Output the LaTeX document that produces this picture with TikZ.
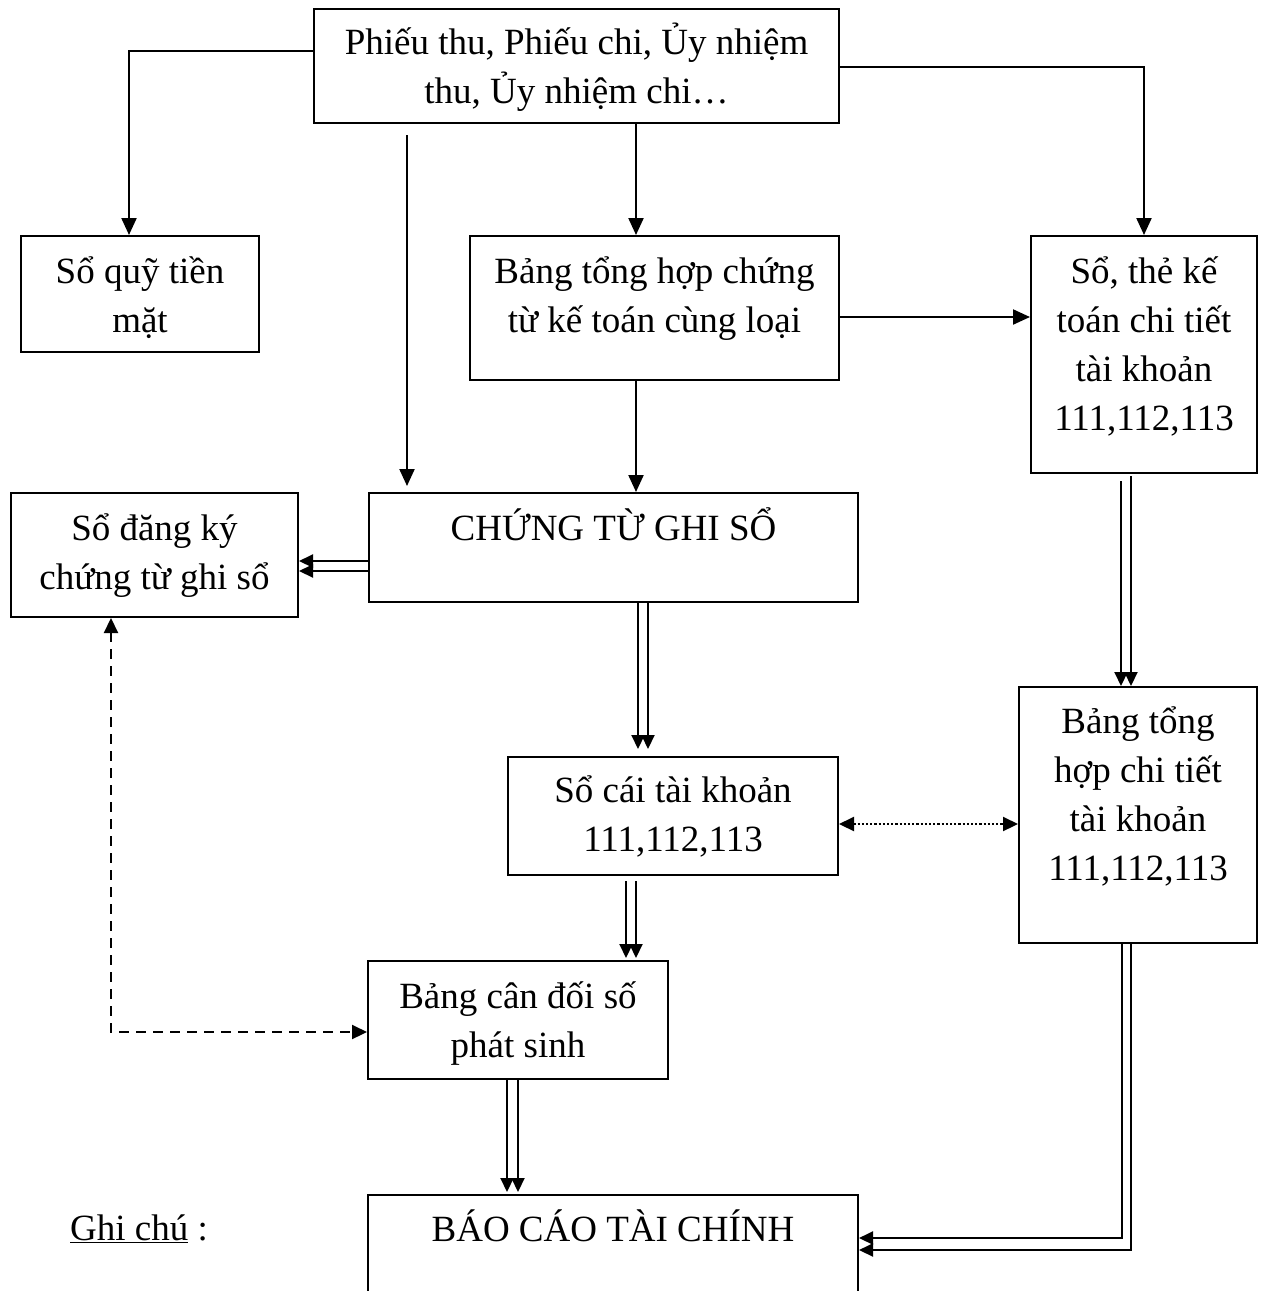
\documentclass[tikz,border=0pt]{standalone}
\usepackage{fontspec}
\setmainfont{Liberation Serif}
\usetikzlibrary{arrows.meta}
\begin{document}
\begin{tikzpicture}[x=1pt,y=-1pt,
  box/.style={draw, line width=2pt, inner sep=0pt, anchor=north west, align=flush center,
    font=\fontsize{37}{49}\selectfont},
  arr/.style={line width=2.2pt, -{Triangle[length=17pt,width=15pt]}},
  darr/.style={line width=2pt, -{Triangle[length=14pt,width=13pt]}},
  dotarr/.style={line width=2.2pt, dotted, {Triangle[length=15pt,width=14pt]}-{Triangle[length=15pt,width=14pt]}},
  dasharr/.style={line width=2.2pt, dash pattern=on 10pt off 7pt, {Triangle[length=15pt,width=14pt]}-{Triangle[length=15pt,width=14pt]}},
]
\useasboundingbox (0,0) rectangle (1270,1291);

% boxes
\node[box, text width=525pt, text height=45pt, text depth=69pt] (top) at (313,8)
  {Phiếu thu, Phiếu chi, Ủy nhiệm\\thu, Ủy nhiệm chi…};
\node[box, text width=238pt, text height=47pt, text depth=69pt] (quy) at (20,235)
  {Sổ quỹ tiền\\mặt};
\node[box, text width=369pt, text height=47pt, text depth=97pt] (bth) at (469,235)
  {Bảng tổng hợp chứng\\từ kế toán cùng loại};
\node[box, text width=226pt, text height=47pt, text depth=190pt] (sothe) at (1030,235)
  {Sổ, thẻ kế\\toán chi tiết\\tài khoản\\111,112,113};
\node[box, text width=287pt, text height=47pt, text depth=77pt] (dangky) at (10,492)
  {Sổ đăng ký\\chứng từ ghi sổ};
\node[box, text width=489pt, text height=47pt, text depth=62pt] (ctgs) at (368,492)
  {CHỨNG TỪ GHI SỔ};
\node[box, text width=330pt, text height=45pt, text depth=73pt] (socai) at (507,756)
  {Sổ cái tài khoản\\111,112,113};
\node[box, text width=238pt, text height=46pt, text depth=210pt] (bthct) at (1018,686)
  {Bảng tổng\\hợp chi tiết\\tài khoản\\111,112,113};
\node[box, text width=300pt, text height=47pt, text depth=71pt] (bcd) at (367,960)
  {Bảng cân đối số\\phát sinh};
\node[box, text width=490pt, text height=46pt, text depth=66pt] (bctc) at (367,1194)
  {BÁO CÁO TÀI CHÍNH};
\node[anchor=base west, inner sep=0pt, font=\fontsize{37}{49}\selectfont] (ghichu) at (70,1240)
  {\underline{Ghi chú} :};

% helper coordinates
\coordinate (c407) at (407,135);
\coordinate (c636) at (636,0);
\coordinate (h317) at (0,317);
\coordinate (h561) at (0,561);
\coordinate (h571) at (0,571);
\coordinate (v638) at (638,0);
\coordinate (v648) at (648,0);
\coordinate (s1121) at (1121,481);
\coordinate (s1131) at (1131,476);
\coordinate (h824) at (0,824);
\coordinate (v626) at (626,0);
\coordinate (v636) at (636,0);
\coordinate (v507) at (507,0);
\coordinate (v518) at (518,0);
\coordinate (v1122) at (1122,0);
\coordinate (v1131) at (1131,0);
\coordinate (h1238) at (0,1238);
\coordinate (h1250) at (0,1250);
\coordinate (d111) at (111,1032);

% single arrows
\draw[arr] ([yshift=15pt]top.west) -| ([xshift=-11pt]quy.north);
\draw[arr, shorten >=6pt] (c407) -- (c407 |- ctgs.north);
\draw[arr] (top.south -| c636) -- (c636 |- bth.north);
\draw[arr] ([yshift=-1pt]top.east) -| (sothe.north);
\draw[arr] (bth.east |- h317) -- (sothe.west |- h317);
\draw[arr] (bth.south -| c636) -- (c636 |- ctgs.north);

% double arrows
\draw[darr] (ctgs.west |- h561) -- (dangky.east |- h561);
\draw[darr] (ctgs.west |- h571) -- (dangky.east |- h571);
\draw[darr, shorten >=7pt] (ctgs.south -| v638) -- (v638 |- socai.north);
\draw[darr, shorten >=7pt] (ctgs.south -| v648) -- (v648 |- socai.north);
\draw[darr] (s1121) -- (s1121 |- bthct.north);
\draw[darr] (s1131) -- (s1131 |- bthct.north);
\draw[darr, shorten <=5pt, shorten >=2pt] (socai.south -| v626) -- (v626 |- bcd.north);
\draw[darr, shorten <=5pt, shorten >=2pt] (socai.south -| v636) -- (v636 |- bcd.north);
\draw[darr, shorten >=2pt] (bcd.south -| v507) -- (v507 |- bctc.north);
\draw[darr, shorten >=2pt] (bcd.south -| v518) -- (v518 |- bctc.north);
\draw[darr] (bthct.south -| v1122) |- (bctc.east |- h1238);
\draw[darr] (bthct.south -| v1131) |- (bctc.east |- h1250);

% dotted and dashed
\draw[dotarr] (socai.east |- h824) -- (bthct.west |- h824);
\draw[dasharr] (dangky.south -| d111) |- (bcd.west |- d111);
\end{tikzpicture}
\end{document}
